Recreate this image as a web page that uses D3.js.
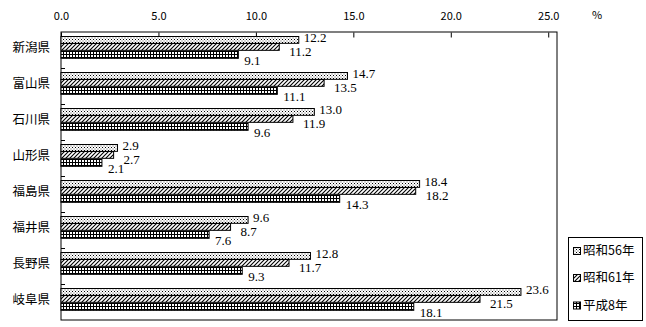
<!DOCTYPE html>
<html><head><meta charset="utf-8">
<script src="https://cdn.jsdelivr.net/npm/d3@7/dist/d3.min.js"></script>
<style>body{margin:0;background:#fff}svg{display:block}</style>
</head><body>
<svg id="c" width="646" height="327"></svg>
<script>
const categories = ["新潟県","富山県","石川県","山形県","福島県","福井県","長野県","岐阜県"];
const seriesNames = ["昭和56年","昭和61年","平成8年"];
const s56 = [12.2,14.7,13.0,2.9,18.4,9.6,12.8,23.6];
const s61 = [11.2,13.5,11.9,2.7,18.2,8.7,11.7,21.5];
const h8  = [9.1,11.1,9.6,2.1,14.3,7.6,9.3,18.1];
const tickValues = [0,5,10,15,20,25];
const series = [s56,s61,h8];

const svg = d3.select("#c");
const jp = "'Noto Sans CJK JP', sans-serif";
const defs = svg.append("defs");
// dots
const p1 = defs.append("pattern").attr("id","p0").attr("width",3).attr("height",3).attr("patternUnits","userSpaceOnUse");
p1.append("rect").attr("width",3).attr("height",3).attr("fill","#fff");
p1.append("rect").attr("x",0).attr("y",0).attr("width",1).attr("height",1).attr("fill","#000");
p1.append("rect").attr("x",1.5).attr("y",1.5).attr("width",1).attr("height",1).attr("fill","#555");
// diagonal
const p2 = defs.append("pattern").attr("id","p1").attr("width",4).attr("height",4).attr("patternUnits","userSpaceOnUse");
p2.append("rect").attr("width",4).attr("height",4).attr("fill","#fff");
p2.append("path").attr("d","M-1,5 L5,-1 M-1,1 L1,-1 M3,5 L5,3").attr("stroke","#000").attr("stroke-width",1.1);
// grid
const p3 = defs.append("pattern").attr("id","p2").attr("width",3).attr("height",3).attr("patternUnits","userSpaceOnUse");
p3.append("rect").attr("width",3).attr("height",3).attr("fill","#fff");
p3.append("rect").attr("x",0).attr("y",0).attr("width",3).attr("height",1).attr("fill","#000");
p3.append("rect").attr("x",0).attr("y",0).attr("width",1).attr("height",3).attr("fill","#000");

const x = d3.scaleLinear().domain([0,25.45]).range([61,557]);
const y = d3.scaleBand().domain(categories).range([32,320]).paddingInner(0);
const sub = d3.scaleBand().domain([0,1,2]).range([4,26]);

// frame
svg.append("rect").attr("x",61).attr("y",32).attr("width",496).attr("height",288)
  .attr("fill","none").attr("stroke","#000").attr("stroke-width",1);

// top axis
const ax = d3.axisTop(x).tickValues(tickValues).tickFormat(d3.format(".1f")).tickSize(-5).tickPadding(14);
const gx = svg.append("g").attr("transform","translate(0,32.5)").call(ax);
gx.select(".domain").remove();
gx.selectAll("text").attr("font-family",jp).attr("font-size",11).attr("dy","0").attr("y",-13);
svg.append("text").attr("x",597).attr("y",19).attr("font-family",jp).attr("font-size",11).attr("text-anchor","middle").text("%");

// left ticks at band boundaries
svg.append("g").selectAll("line").data(categories.slice(1)).join("line")
  .attr("x1",61).attr("x2",65).attr("y1",d=>Math.round(y(d))+0.5).attr("y2",d=>Math.round(y(d))+0.5)
  .attr("stroke","#000");

// category labels
svg.append("g").selectAll("text").data(categories).join("text")
  .attr("x",50).attr("y",d=>y(d)+y.bandwidth()/2-2.5).attr("dy","0.35em")
  .attr("text-anchor","end").attr("font-family",jp).attr("font-size",12.5).text(d=>d);

// bars
const dyOff = [-2.5,4.5,6];
const dxOff = [5,10,6];
series.forEach((vals,si)=>{
  const g = svg.append("g");
  g.selectAll("rect").data(vals).join("rect")
    .attr("x",x(0)).attr("y",(d,i)=>Math.round(y(categories[i])+sub(si))+0.5)
    .attr("width",d=>x(d)-x(0)).attr("height",sub.bandwidth()-0.5)
    .attr("fill",`url(#p${si})`).attr("stroke","#000").attr("stroke-width",1);
  g.selectAll("text").data(vals).join("text")
    .attr("x",d=>x(d)+dxOff[si]).attr("y",(d,i)=>y(categories[i])+sub(si)+sub.bandwidth()/2+dyOff[si])
    .attr("dy","0.35em").attr("font-family","'Liberation Serif', serif").attr("font-size",13)
    .text(d=>d.toFixed(1));
});

// legend
const lg = svg.append("g");
lg.append("rect").attr("x",568.5).attr("y",237.5).attr("width",74).attr("height",83).attr("fill","#fff").attr("stroke","#000");
const ly = [251,278,305.5];
seriesNames.forEach((n,i)=>{
  lg.append("rect").attr("x",573.5).attr("y",ly[i]-3.5).attr("width",7).attr("height",7)
    .attr("fill",`url(#p${i})`).attr("stroke","#000");
  lg.append("text").attr("x",583).attr("y",ly[i]).attr("dy","0.35em").attr("font-family",jp).attr("font-size",12.5).text(n);
});
</script>
</body></html>
